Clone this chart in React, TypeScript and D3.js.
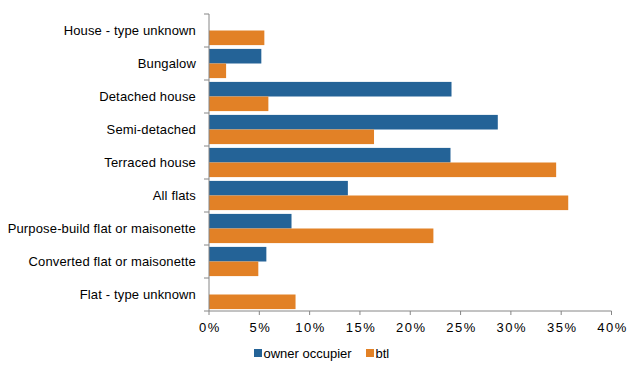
import { scaleBand, scaleLinear } from "d3";

const categories = [
  "House - type unknown",
  "Bungalow",
  "Detached house",
  "Semi-detached",
  "Terraced house",
  "All flats",
  "Purpose-build flat or maisonette",
  "Converted flat or maisonette",
  "Flat - type unknown",
];
const ownerOccupier = [0, 5.2, 24.1, 28.7, 24.0, 13.8, 8.2, 5.7, 0];
const btl = [5.5, 1.7, 5.9, 16.4, 34.5, 35.7, 22.3, 4.9, 8.6];
const xTicks = [0, 5, 10, 15, 20, 25, 30, 35, 40];
const seriesNames = ["owner occupier", "btl"];
const colors = ["#246397", "#E28126"];

const W = 640;
const H = 373;
const left = 209;
const right = 611.5;
const top = 14;
const bottom = 311;

export default function App() {
  const x = scaleLinear().domain([0, 40]).range([left, right]);
  const y = scaleBand().domain(categories).range([top, bottom]);
  const inner = scaleBand()
    .domain(seriesNames)
    .range([0, y.bandwidth()])
    .paddingOuter(0.13)
    .paddingInner(0);
  const series = [ownerOccupier, btl];
  const font = "'Liberation Sans', Arial, sans-serif";

  return (
    <svg
      width={W}
      height={H}
      style={{ position: "absolute", left: 0, top: 0 }}
      fontFamily={font}
    >
      <rect width={W} height={H} fill="#fff" />
      {series.map((vals, si) =>
        vals.map((v, i) =>
          v > 0 ? (
            <rect
              key={`${si}-${i}`}
              x={x(0)}
              y={(y(categories[i]) ?? 0) + (inner(seriesNames[si]) ?? 0)}
              width={x(v) - x(0)}
              height={inner.bandwidth()}
              fill={colors[si]}
            />
          ) : null
        )
      )}
      {/* y axis */}
      <line x1={left} x2={left} y1={top} y2={bottom} stroke="#868686" />
      {categories.map((c, i) => (
        <line
          key={c}
          x1={left - 5}
          x2={left}
          y1={top + i * y.step()}
          y2={top + i * y.step()}
          stroke="#868686"
        />
      ))}
      <line x1={left - 5} x2={left} y1={bottom} y2={bottom} stroke="#868686" />
      {categories.map((c) => (
        <text
          key={c}
          x={196}
          y={(y(c) ?? 0) + y.bandwidth() / 2}
          dy="0.35em"
          textAnchor="end"
          fontSize={13}
          letterSpacing={0.15}
          fill="#000"
        >
          {c}
        </text>
      ))}
      {/* x axis */}
      <line x1={left} x2={right} y1={bottom} y2={bottom} stroke="#868686" />
      {xTicks.map((t) => (
        <g key={t}>
          <line x1={x(t)} x2={x(t)} y1={bottom} y2={bottom + 4} stroke="#868686" />
          <text
            x={x(t) + 1}
            y={327}
            dy="0.35em"
            textAnchor="middle"
            fontSize={13}
            letterSpacing={1.5}
            fill="#000"
          >
            {t}%
          </text>
        </g>
      ))}
      {/* legend */}
      {[254, 366].map((lx, i) => (
        <g key={seriesNames[i]}>
          <rect x={lx} y={349} width={8} height={8} fill={colors[i]} />
          <text x={lx + 9.5} y={353} dy="0.35em" fontSize={13} fill="#000">
            {seriesNames[i]}
          </text>
        </g>
      ))}
    </svg>
  );
}
